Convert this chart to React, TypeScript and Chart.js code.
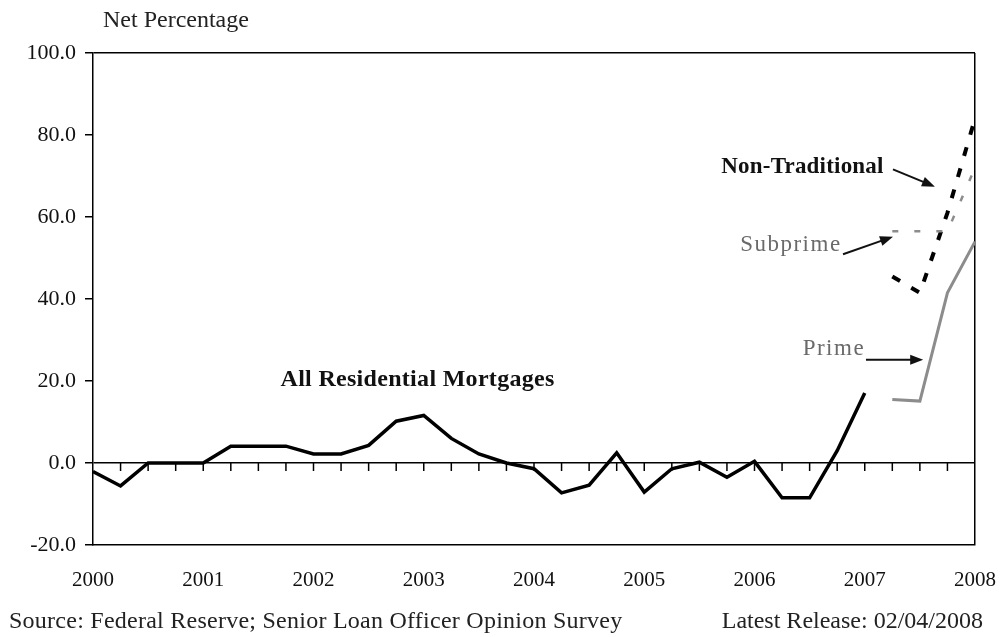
import React, { useEffect, useRef } from "react";
import { Chart, registerables } from "chart.js";

Chart.register(...registerables);

// Quarterly survey data, starting 2000 Q1
const startYear = 2000;
const allResidential = [
  -2.1, -5.6, 0, 0, 0, 4.1, 4.1, 4.1, 2.2, 2.2, 4.3, 10.2, 11.6, 6.0, 2.2, 0,
  -1.4, -7.3, -5.4, 2.5, -7.1, -1.4, 0.2, -3.5, 0.4, -8.5, -8.5, 3.0, 17.1,
];
// Series by loan type start at 2007 Q2 (quarter index 29)
const loanTypeStart = 29;
const prime = [15.5, 15.1, 41.5, 54.0];
const subprime = [56.5, 56.5, 56.5, 72.0];
const nonTraditional = [45.5, 41.5, 61.0, 84.0];

const yearTicks = [2000, 2001, 2002, 2003, 2004, 2005, 2006, 2007, 2008];
const yTicks = [-20, 0, 20, 40, 60, 80, 100];

// Annotation labels in data coordinates
const labels = [
  { text: "All Residential Mortgages", x: 2002.944, y: 20.4, bold: true, size: 24, spacing: 0.3, color: "#111" },
  { text: "Non-Traditional", x: 2006.435, y: 72.1, bold: true, size: 23, spacing: 0.2, color: "#111" },
  { text: "Subprime", x: 2006.33, y: 53.3, bold: false, size: 23, spacing: 1.5, color: "#6a6a6a" },
  { text: "Prime", x: 2006.72, y: 27.7, bold: false, size: 23, spacing: 1.5, color: "#6a6a6a" },
];
const arrows = [
  { x1: 2007.256, y1: 71.6, x2: 2007.637, y2: 67.4 },
  { x1: 2006.803, y1: 50.9, x2: 2007.256, y2: 55.2 },
  { x1: 2007.011, y1: 25.2, x2: 2007.53, y2: 25.2 },
];

const FONT = '"Liberation Serif", "Times New Roman", serif';

const toPoints = (vals: number[], start: number) =>
  vals.map((v, i) => ({ x: startYear + (start + i) / 4, y: v }));

export default function App() {
  const ref = useRef<HTMLCanvasElement | null>(null);

  useEffect(() => {
    if (!ref.current) return;
    const overlay = {
      id: "overlay",
      afterDatasetsDraw(chart: any) {
        const { ctx, scales } = chart;
        const xs = scales.x;
        const ys = scales.y;
        ctx.save();
        // quarterly tick marks on the zero line
        const y0 = ys.getPixelForValue(0);
        ctx.strokeStyle = "#000";
        ctx.lineWidth = 1.5;
        for (let q = 1; q < 32; q++) {
          const px = xs.getPixelForValue(startYear + q / 4);
          ctx.beginPath();
          ctx.moveTo(px, y0);
          ctx.lineTo(px, y0 + 8);
          ctx.stroke();
        }
        // labels
        ctx.textAlign = "center";
        ctx.textBaseline = "middle";
        for (const l of labels) {
          ctx.font = `${l.bold ? "bold " : ""}${l.size}px ${FONT}`;
          (ctx as any).letterSpacing = `${l.spacing}px`;
          ctx.fillStyle = l.color;
          ctx.fillText(l.text, xs.getPixelForValue(l.x), ys.getPixelForValue(l.y));
        }
        (ctx as any).letterSpacing = "0px";
        // arrows
        for (const a of arrows) {
          const x1 = xs.getPixelForValue(a.x1);
          const y1 = ys.getPixelForValue(a.y1);
          const x2 = xs.getPixelForValue(a.x2);
          const y2 = ys.getPixelForValue(a.y2);
          const ang = Math.atan2(y2 - y1, x2 - x1);
          ctx.strokeStyle = "#111";
          ctx.fillStyle = "#111";
          ctx.lineWidth = 2;
          ctx.beginPath();
          ctx.moveTo(x1, y1);
          ctx.lineTo(x2 - 8 * Math.cos(ang), y2 - 8 * Math.sin(ang));
          ctx.stroke();
          ctx.beginPath();
          ctx.moveTo(x2, y2);
          ctx.lineTo(x2 - 13 * Math.cos(ang) + 5 * Math.sin(ang), y2 - 13 * Math.sin(ang) - 5 * Math.cos(ang));
          ctx.lineTo(x2 - 13 * Math.cos(ang) - 5 * Math.sin(ang), y2 - 13 * Math.sin(ang) + 5 * Math.cos(ang));
          ctx.closePath();
          ctx.fill();
        }
        ctx.restore();
      },
      afterDraw(chart: any) {
        const { ctx } = chart;
        ctx.save();
        ctx.fillStyle = "#222";
        ctx.textBaseline = "middle";
        ctx.font = `24px ${FONT}`;
        ctx.textAlign = "left";
        ctx.fillText("Net Percentage", 103, 21);
        (ctx as any).letterSpacing = "0.25px";
        ctx.fillText("Source: Federal Reserve; Senior Loan Officer Opinion Survey", 9, 622);
        (ctx as any).letterSpacing = "0px";
        ctx.textAlign = "right";
        ctx.fillText("Latest Release: 02/04/2008", 983, 622);
        ctx.restore();
      },
    };

    const chart = new Chart(ref.current, {
      type: "line",
      data: {
        datasets: [
          {
            label: "All Residential Mortgages",
            data: toPoints(allResidential, 0),
            borderColor: "#000",
            borderWidth: 3.5,
            pointRadius: 0,
            tension: 0,
          },
          {
            label: "Prime",
            data: toPoints(prime, loanTypeStart),
            borderColor: "#8c8c8c",
            borderWidth: 3,
            pointRadius: 0,
          },
          {
            label: "Subprime",
            data: toPoints(subprime, loanTypeStart),
            borderColor: "#8c8c8c",
            borderWidth: 2.5,
            borderDash: [6, 16],
            pointRadius: 0,
          },
          {
            label: "Non-Traditional",
            data: toPoints(nonTraditional, loanTypeStart),
            borderColor: "#000",
            borderWidth: 4,
            borderDash: [9, 13],
            pointRadius: 0,
          },
        ],
      },
      options: {
        animation: false,
        responsive: false,
        layout: { padding: { top: 53, right: 25, bottom: 0, left: 0 } },
        plugins: { legend: { display: false }, tooltip: { enabled: false } },
        scales: {
          x: {
            type: "linear",
            min: 2000,
            max: 2008,
            afterFit: (s: any) => {
              s.height = 92;
              s.paddingLeft = 0;
              s.paddingRight = 0;
            },
            afterBuildTicks: (s: any) => {
              s.ticks = yearTicks.map((v) => ({ value: v }));
            },
            ticks: {
              autoSkip: false,
              maxRotation: 0,
              padding: 23,
              color: "#111",
              font: { family: FONT, size: 21 },
              callback: (v: any) => String(v),
            },
            grid: {
              drawTicks: false,
              color: (c: any) => (c.tick && c.tick.value === 2008 ? "#000" : "transparent"),
              lineWidth: 1.5,
            },
            border: { display: true, color: "#000", width: 1.5 },
          },
          y: {
            min: -20,
            max: 100,
            afterFit: (s: any) => {
              s.width = 93;
              s.paddingTop = 0;
              s.paddingBottom = 0;
            },
            afterBuildTicks: (s: any) => {
              s.ticks = yTicks.map((v) => ({ value: v }));
            },
            ticks: {
              padding: 9,
              color: "#111",
              font: { family: FONT, size: 22 },
              callback: (v: any) => Number(v).toFixed(1),
            },
            grid: {
              color: (c: any) =>
                c.tick && (c.tick.value === 0 || c.tick.value === 100) ? "#000" : "transparent",
              tickColor: "#000",
              tickLength: 8,
              lineWidth: 1.5,
            },
            border: { display: true, color: "#000", width: 1.5 },
          },
        },
      },
      plugins: [overlay],
    } as any);
    return () => chart.destroy();
  }, []);

  return (
    <div style={{ position: "absolute", left: 0, top: 0, width: 1000, height: 637, background: "#fff" }}>
      <canvas ref={ref} width={1000} height={637} style={{ width: 1000, height: 637 }} />
    </div>
  );
}
